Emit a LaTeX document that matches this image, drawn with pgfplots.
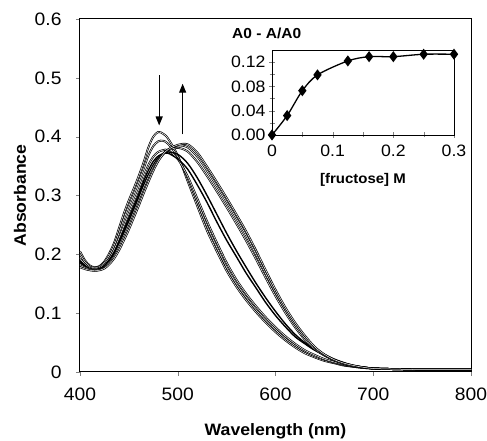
\documentclass[border=0pt]{standalone}
\usepackage{fontspec}
\setmainfont{Liberation Sans}[FakeStretch=1.07]
\usepackage{pgfplots}
\pgfplotsset{compat=1.18}
\usepackage{pgfplotstable}
\usetikzlibrary{arrows.meta,calc}

% absorbance spectra, one column per fructose addition
\pgfplotstableread{
wl   c1    c2    c3    c4    c5    c6    c7    c8
400 0.205 0.200 0.193 0.189 0.186 0.183 0.181 0.178
405 0.190 0.187 0.183 0.181 0.180 0.178 0.177 0.175
410 0.181 0.179 0.177 0.176 0.175 0.175 0.174 0.173
415 0.178 0.177 0.175 0.174 0.174 0.173 0.173 0.172
420 0.180 0.179 0.177 0.176 0.175 0.174 0.174 0.173
425 0.188 0.186 0.183 0.181 0.180 0.178 0.177 0.176
430 0.202 0.198 0.193 0.191 0.189 0.187 0.185 0.183
435 0.220 0.215 0.208 0.204 0.201 0.198 0.196 0.193
440 0.245 0.237 0.228 0.222 0.218 0.215 0.211 0.207
445 0.270 0.261 0.249 0.242 0.238 0.233 0.229 0.224
450 0.292 0.282 0.270 0.262 0.257 0.252 0.247 0.242
455 0.312 0.302 0.290 0.282 0.277 0.272 0.267 0.262
460 0.333 0.323 0.310 0.302 0.297 0.292 0.287 0.282
465 0.356 0.345 0.332 0.324 0.318 0.313 0.307 0.303
470 0.382 0.368 0.352 0.343 0.336 0.332 0.327 0.323
475 0.400 0.384 0.366 0.358 0.352 0.349 0.345 0.342
480 0.408 0.392 0.374 0.367 0.364 0.362 0.360 0.358
485 0.405 0.393 0.377 0.371 0.370 0.371 0.370 0.370
490 0.397 0.388 0.377 0.372 0.374 0.377 0.378 0.378
500 0.368 0.366 0.362 0.362 0.370 0.381 0.385 0.386
510 0.325 0.330 0.333 0.345 0.355 0.375 0.382 0.387
520 0.282 0.289 0.295 0.318 0.330 0.357 0.366 0.373
530 0.240 0.248 0.256 0.288 0.300 0.333 0.342 0.349
540 0.205 0.212 0.220 0.255 0.268 0.307 0.316 0.323
550 0.172 0.178 0.186 0.224 0.236 0.280 0.289 0.296
560 0.145 0.150 0.157 0.196 0.206 0.252 0.261 0.268
570 0.122 0.127 0.133 0.168 0.178 0.223 0.232 0.239
580 0.102 0.106 0.112 0.143 0.151 0.192 0.200 0.207
590 0.084 0.088 0.093 0.118 0.126 0.160 0.167 0.173
600 0.068 0.072 0.076 0.096 0.103 0.129 0.135 0.140
610 0.054 0.057 0.061 0.077 0.082 0.101 0.106 0.110
620 0.042 0.045 0.048 0.060 0.064 0.076 0.080 0.084
630 0.032 0.035 0.037 0.048 0.050 0.055 0.058 0.062
640 0.025 0.027 0.029 0.037 0.039 0.039 0.041 0.043
650 0.019 0.021 0.022 0.029 0.030 0.028 0.029 0.030
660 0.015 0.016 0.017 0.021 0.022 0.020 0.020 0.021
670 0.011 0.012 0.013 0.015 0.016 0.014 0.014 0.015
680 0.009 0.009 0.010 0.011 0.011 0.010 0.010 0.011
690 0.007 0.007 0.008 0.008 0.008 0.008 0.008 0.008
700 0.006 0.006 0.006 0.006 0.006 0.006 0.006 0.006
720 0.005 0.005 0.005 0.005 0.005 0.005 0.005 0.005
750 0.004 0.004 0.004 0.004 0.004 0.004 0.004 0.004
780 0.004 0.004 0.004 0.004 0.004 0.004 0.004 0.004
800 0.004 0.004 0.004 0.004 0.004 0.004 0.004 0.004
}\spectra

\pgfplotstableread{
conc  dA
0     0.000
0.025 0.032
0.05  0.073
0.075 0.099
0.125 0.122
0.16  0.129
0.2   0.129
0.25  0.133
0.3   0.133
}\titration

\begin{document}
\begin{tikzpicture}
  \begin{axis}[
      name=main,
      scale only axis,
      width=391pt,height=353pt,
      xmin=400,xmax=800,ymin=0,ymax=0.6,
      xtick={400,500,600,700,800},
      ytick={0,0.1,0.2,0.3,0.4,0.5,0.6},
      tick align=outside,tick pos=left,
      major tick length=4pt,
      axis line style={line width=1pt},
      /pgf/number format/assume math mode=true,
      tick label style={font=\fontsize{18}{21}\selectfont},
      xticklabel style={yshift=-8pt},
      yticklabel style={xshift=-11pt},
      xlabel={Wavelength (nm)},
      ylabel={Absorbance},
      label style={font=\fontsize{16.5}{20}\selectfont\bfseries},
      xlabel style={at={(axis description cs:0.5,0)},anchor=center,yshift=-59pt},
      ylabel style={at={(axis description cs:0,0.5)},anchor=center,yshift=60pt},
      spec/.style={black,line width=0.7pt,double=white,double distance=0.5pt,smooth},
      spec solid/.style={black,line width=1.4pt,smooth}]
    \addplot[spec] table[x=wl,y=c1]{\spectra};
    \addplot[spec] table[x=wl,y=c2]{\spectra};
    \addplot[spec] table[x=wl,y=c3]{\spectra};
    \addplot[spec solid] table[x=wl,y=c4]{\spectra};
    \addplot[spec solid] table[x=wl,y=c5]{\spectra};
    \addplot[spec] table[x=wl,y=c6]{\spectra};
    \addplot[spec] table[x=wl,y=c7]{\spectra};
    \addplot[spec] table[x=wl,y=c8]{\spectra};
    \draw[-{Triangle[length=9pt,width=7pt]},line width=1.2pt] (axis cs:481,0.504) -- (axis cs:481,0.419);
    \draw[-{Triangle[length=9pt,width=7pt]},line width=1.2pt] (axis cs:505,0.404) -- (axis cs:505,0.490);
  \end{axis}

  \begin{axis}[
      name=inset,
      at={($(main.south west)+(192pt,237pt)$)},anchor=south west,
      scale only axis,
      width=182pt,height=85pt,
      xmin=0,xmax=0.3,ymin=0,ymax=0.14,
      xtick={0,0.1,0.2,0.3},minor xtick={0.05,0.15,0.25},
      ytick={0,0.04,0.08,0.12},minor ytick={0.02,0.06,0.1},
      tick align=center,tick pos=left,
      major tick length=6pt,minor tick length=5pt,
      axis line style={line width=0.8pt},
      /pgf/number format/assume math mode=true,
      tick label style={font=\fontsize{16.5}{20}\selectfont},
      xticklabel style={yshift=-3pt},
      yticklabel style={/pgf/number format/.cd,fixed,fixed zerofill,precision=2},
      xlabel={[fructose] M},
      xlabel style={font=\fontsize{14}{17}\selectfont\bfseries,
        at={(axis description cs:0.5,0)},anchor=center,yshift=-45pt}]
    \addplot[black,line width=1.3pt,smooth,mark=diamond*,mark size=4.5pt]
      table[x=conc,y=dA]{\titration};
  \end{axis}
  \node[anchor=west,font=\fontsize{14.5}{18}\selectfont\bfseries,inner sep=0pt]
    at ($(inset.north west)+(-40pt,17pt)$) {A0 - A/A0};

  \pgfresetboundingbox
  \path ($(main.south west)+(-80pt,-69pt)$) rectangle ($(main.north east)+(16pt,19pt)$);
\end{tikzpicture}
\end{document}
